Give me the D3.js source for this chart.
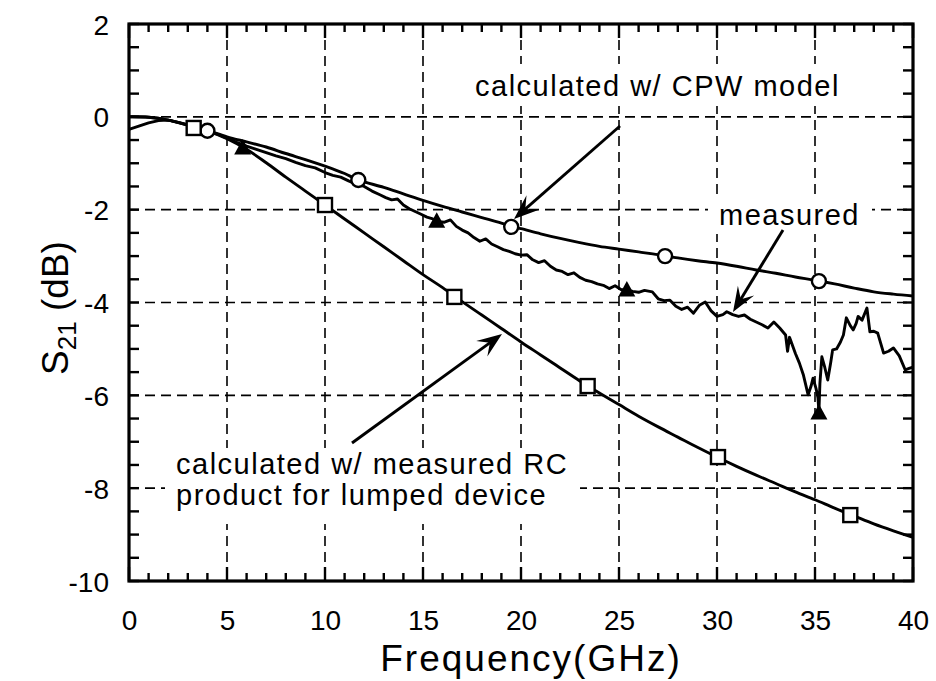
<!DOCTYPE html>
<html><head><meta charset="utf-8">
<script src="https://cdn.jsdelivr.net/npm/d3@7"></script>
<style>body{margin:0;background:#fff} svg{display:block}</style>
</head><body><svg id="c" width="936" height="681"></svg>
<script>
// ---- data ----
const xTickLabels = [0,5,10,15,20,25,30,35,40];
const yTickLabels = [2,0,-2,-4,-6,-8,-10];

const cpwFreq = [0,1,2,3,4,5,6,7,8,9,10,11,11.7,13,14,15,16,17,18,19,19.6,20,21,22,23,24,25,26,27,28,29,30,31,32,33,34,35,36,37,38,39,40];
const cpwDb   = [0,-0.01,-0.07,-0.17,-0.29,-0.43,-0.54,-0.65,-0.79,-0.92,-1.06,-1.22,-1.36,-1.52,-1.66,-1.8,-1.93,-2.05,-2.17,-2.29,-2.37,-2.41,-2.52,-2.62,-2.71,-2.79,-2.85,-2.91,-2.97,-3.04,-3.1,-3.15,-3.22,-3.3,-3.37,-3.45,-3.52,-3.6,-3.69,-3.77,-3.82,-3.86];

const rcFreq = [0,1,2,3,4,5,6,7,8,9,10,11,12,13,14,15,16,17,18,19,20,21,22,23,24,25,26,27,28,29,30,31,32,33,34,35,36,37,38,39,40];
const rcDb   = [0,-0.01,-0.07,-0.18,-0.3,-0.47,-0.7,-0.99,-1.3,-1.6,-1.9,-2.2,-2.5,-2.8,-3.1,-3.4,-3.68,-3.98,-4.27,-4.56,-4.85,-5.13,-5.41,-5.69,-5.95,-6.2,-6.45,-6.68,-6.9,-7.12,-7.33,-7.53,-7.72,-7.9,-8.08,-8.25,-8.43,-8.6,-8.77,-8.92,-9.06];

const measFreq = [0,0.5,1,1.5,2,2.5,3,3.5,4,4.5,5,5.5,6,6.5,7,7.5,8,8.5,9,9.5,10,10.4,10.8,11.2,11.6,12,12.4,12.8,13.1,13.4,13.7,14,14.3,14.6,14.9,15.2,15.5,15.8,16.1,16.4,16.7,17,17.3,17.6,17.9,18.2,18.5,18.8,19.1,19.4,19.7,20,20.3,20.6,20.9,21.2,21.5,21.8,22.1,22.4,22.7,23,23.3,23.6,23.9,24.2,24.5,24.8,25.1,25.4,25.7,26,26.3,26.7,27,27.3,27.6,27.9,28.2,28.5,28.8,29.1,29.4,29.7,30,30.3,30.5,30.8,31.1,31.4,31.7,32,32.3,32.6,32.9,33.2,33.5,33.6,33.7,34,34.2,34.4,34.65,34.8,34.9,35.05,35.15,35.2,35.25,35.35,35.5,35.65,35.8,35.9,36.1,36.3,36.45,36.6,36.8,36.95,37.1,37.2,37.4,37.65,37.8,38,38.2,38.5,38.75,39,39.3,39.6,39.8,40];
const measDb   = [-0.27,-0.2,-0.13,-0.08,-0.07,-0.12,-0.18,-0.24,-0.3,-0.37,-0.46,-0.55,-0.63,-0.7,-0.77,-0.84,-0.9,-0.98,-1.05,-1.1,-1.2,-1.26,-1.3,-1.38,-1.45,-1.5,-1.6,-1.68,-1.74,-1.79,-1.77,-1.9,-1.98,-2.04,-2.1,-2.16,-2.2,-2.26,-2.27,-2.22,-2.36,-2.44,-2.5,-2.6,-2.68,-2.63,-2.74,-2.8,-2.86,-2.9,-2.95,-2.98,-2.97,-3.08,-3.14,-3.1,-3.22,-3.3,-3.33,-3.4,-3.36,-3.46,-3.52,-3.55,-3.6,-3.63,-3.7,-3.64,-3.72,-3.73,-3.76,-3.78,-3.74,-3.77,-3.92,-3.96,-3.95,-4.08,-4.15,-4.1,-4.23,-4.06,-3.99,-4.18,-4.3,-4.26,-4.2,-4.26,-4.3,-4.27,-4.36,-4.42,-4.48,-4.55,-4.42,-4.55,-4.7,-5.05,-4.75,-5.1,-5.3,-5.55,-5.99,-5.8,-5.63,-5.85,-6.05,-6.35,-5.75,-5.17,-5.4,-5.67,-5.3,-5.02,-5,-4.85,-4.7,-4.33,-4.5,-4.59,-4.45,-4.3,-4.38,-4.12,-4.63,-4.62,-4.66,-5.09,-5.05,-4.98,-5.15,-5.45,-5.42,-5.39];

const cpwMarkFreq = [4.0,11.7,19.5,27.35,35.2];
const cpwMarkDb   = [-0.3,-1.36,-2.37,-3.0,-3.54];
const rcMarkFreq  = [3.3,10,16.6,23.4,30.05,36.8];
const rcMarkDb    = [-0.24,-1.9,-3.88,-5.8,-7.33,-8.58];
const measMarkFreq = [5.8,15.7,25.4,35.2];
const measMarkDb   = [-0.67,-2.25,-3.73,-6.38];

// ---- layout ----
const svg = d3.select("#c");
const L=129, R=913, T=24, B=581;
const x = d3.scaleLinear().domain([0,40]).range([L,R]);
const y = d3.scaleLinear().domain([-10,2]).range([B,T]);
const FONT = "'Liberation Sans', Arial, Helvetica, sans-serif";
const fmt = d => String(d);

// grid
const g = svg.append("g");
xTickLabels.slice(1,-1).forEach(v=>{
  g.append("line").attr("x1",x(v)).attr("x2",x(v)).attr("y1",T).attr("y2",B)
   .attr("stroke","#000").attr("stroke-width",1.6).attr("stroke-dasharray","10,6");
});
yTickLabels.slice(1,-1).forEach(v=>{
  g.append("line").attr("x1",L).attr("x2",R).attr("y1",y(v)).attr("y2",y(v))
   .attr("stroke","#000").attr("stroke-width",1.6).attr("stroke-dasharray","10,6");
});

// axes with inward ticks
const axB = d3.axisBottom(x).tickValues(xTickLabels).tickSize(0).tickFormat(fmt);
const gx = svg.append("g").attr("transform",`translate(0,${B})`).call(axB);
gx.select(".domain").remove();
gx.selectAll("text").attr("font-family",FONT).attr("font-size",28).attr("fill","#000").attr("dy",0).attr("y",49);

const axL = d3.axisLeft(y).tickValues(yTickLabels).tickSize(0).tickFormat(fmt);
const gy = svg.append("g").attr("transform",`translate(${L},0)`).call(axL);
gy.select(".domain").remove();
gy.selectAll("text").attr("font-family",FONT).attr("font-size",28).attr("fill","#000").attr("x",-20).attr("dy","0.36em");

const tk = svg.append("g").attr("stroke","#000").attr("stroke-width",2.4);
d3.range(0,41,1).forEach(v=>{
  const len = v%5===0?14:8;
  tk.append("line").attr("x1",x(v)).attr("x2",x(v)).attr("y1",B).attr("y2",B-len);
  tk.append("line").attr("x1",x(v)).attr("x2",x(v)).attr("y1",T).attr("y2",T+len);
});
d3.range(-10,2.01,0.5).forEach(v=>{
  const len = 10;
  tk.append("line").attr("x1",L).attr("x2",L+len).attr("y1",y(v)).attr("y2",y(v));
  tk.append("line").attr("x1",R).attr("x2",R-len).attr("y1",y(v)).attr("y2",y(v));
});

// annotation background boxes (cover grid)
const boxes = [[466,64,392,42],[708,200,164,34],[165,448,415,76]];
boxes.forEach(b=>svg.append("rect").attr("x",b[0]).attr("y",b[1]).attr("width",b[2]).attr("height",b[3]).attr("fill","#fff"));

// curves
const line = d3.line().x(d=>x(d[0])).y(d=>y(d[1]));
const smooth = d3.line().x(d=>x(d[0])).y(d=>y(d[1])).curve(d3.curveCatmullRom);
const lines = svg.append("g").attr("fill","none").attr("stroke","#000").attr("stroke-width",2.9).attr("stroke-linejoin","round");
lines.append("path").attr("d", smooth(d3.zip(rcFreq, rcDb)));
lines.append("path").attr("d", smooth(d3.zip(cpwFreq, cpwDb)));
lines.append("path").attr("d", line(d3.zip(measFreq, measDb)));

// markers
const mk = svg.append("g");
mk.selectAll("circle").data(d3.zip(cpwMarkFreq,cpwMarkDb)).join("circle")
  .attr("cx",d=>x(d[0])).attr("cy",d=>y(d[1])).attr("r",7)
  .attr("fill","#fff").attr("stroke","#000").attr("stroke-width",2.4);
mk.selectAll("rect.sq").data(d3.zip(rcMarkFreq,rcMarkDb)).join("rect").attr("class","sq")
  .attr("x",d=>x(d[0])-7).attr("y",d=>y(d[1])-7).attr("width",14).attr("height",14)
  .attr("fill","#fff").attr("stroke","#000").attr("stroke-width",2.4);
mk.selectAll("path.tri").data(d3.zip(measMarkFreq,measMarkDb)).join("path").attr("class","tri")
  .attr("d",d=>{const cx=x(d[0]), cy=y(d[1]); return `M${cx},${cy-9}L${cx+8.5},${cy+6.5}L${cx-8.5},${cy+6.5}Z`;})
  .attr("fill","#000");

// axes frame
svg.append("rect").attr("x",L).attr("y",T).attr("width",R-L).attr("height",B-T)
  .attr("fill","none").attr("stroke","#000").attr("stroke-width",3.2);

// arrows
function arrow(x1,y1,x2,y2){
  const a = Math.atan2(y2-y1,x2-x1), len=25, w=9.5, notch=15;
  const ux=Math.cos(a), uy=Math.sin(a), px=-uy, py=ux;
  svg.append("line").attr("x1",x1).attr("y1",y1).attr("x2",x2-ux*10).attr("y2",y2-uy*10)
    .attr("stroke","#000").attr("stroke-width",2.9);
  const p = [[x2,y2],[x2-ux*len+px*w,y2-uy*len+py*w],[x2-ux*notch,y2-uy*notch],[x2-ux*len-px*w,y2-uy*len-py*w]];
  svg.append("path").attr("d","M"+p.map(q=>q.join(",")).join("L")+"Z").attr("fill","#000");
}
arrow(620,126,514,219);
arrow(783,230,733,312);
arrow(352,443,502,334);

// annotation text
const ann = svg.append("g").attr("font-family",FONT).attr("font-size",29).attr("letter-spacing","1.5px").attr("fill","#000");
ann.append("text").attr("x",475).attr("y",96).text("calculated w/ CPW model");
ann.append("text").attr("x",719).attr("y",225).text("measured");
ann.append("text").attr("x",176).attr("y",474).text("calculated w/ measured RC");
ann.append("text").attr("x",176).attr("y",505).text("product for lumped device");

// axis titles
svg.append("text").attr("x",531).attr("y",671).attr("text-anchor","middle")
  .attr("font-family",FONT).attr("font-size",37).attr("letter-spacing","2px").text("Frequency(GHz)");
const yt = svg.append("text").attr("transform","translate(68,308) rotate(-90)").attr("text-anchor","middle")
  .attr("font-family",FONT).attr("font-size",37);
yt.append("tspan").text("S");
yt.append("tspan").attr("font-size",26).attr("dy",8).text("21");
yt.append("tspan").attr("dy",-8).text(" (dB)");
</script></body></html>
